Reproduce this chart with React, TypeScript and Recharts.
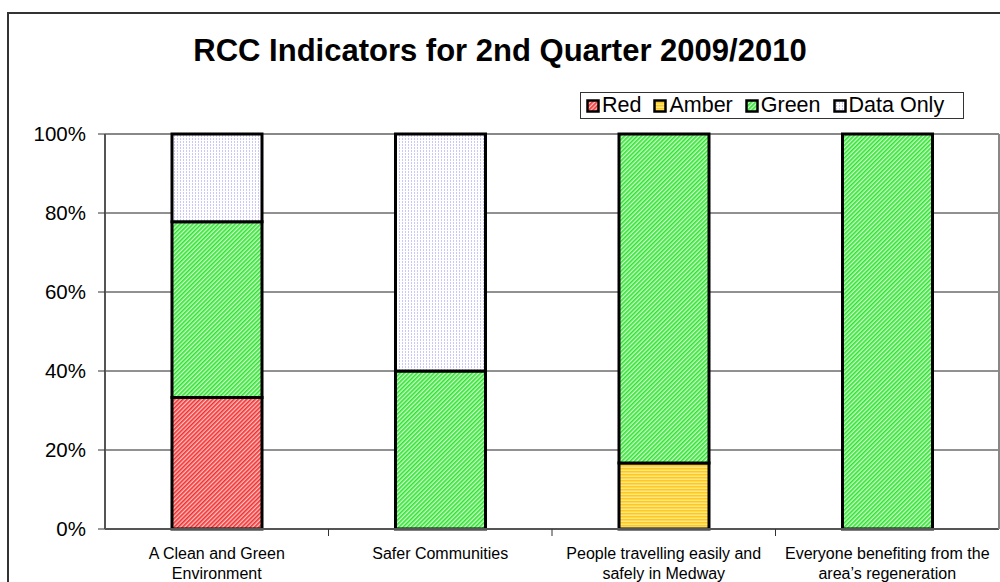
import { BarChart, Bar, XAxis, YAxis, CartesianGrid } from 'recharts';

const categories = [
  'A Clean and Green\nEnvironment',
  'Safer Communities',
  'People travelling easily and\nsafely in Medway',
  'Everyone benefiting from the\narea\u2019s regeneration',
];
const redValues = [33.3, 0, 0, 0];
const amberValues = [0, 0, 16.7, 0];
const greenValues = [44.5, 40, 83.3, 100];
const dataOnlyValues = [22.2, 60, 0, 0];
const yTicks = [0, 20, 40, 60, 80, 100];

const seriesInfo = [
  { key: 'Red', fill: 'url(#patRed)' },
  { key: 'Amber', fill: 'url(#patAmber)' },
  { key: 'Green', fill: 'url(#patGreen)' },
  { key: 'Data Only', fill: 'url(#patData)' },
];

const data = categories.map((name, i) => ({
  name,
  Red: redValues[i],
  Amber: amberValues[i],
  Green: greenValues[i],
  'Data Only': dataOnlyValues[i],
}));

const FONT = '"Liberation Sans", Arial, sans-serif';
const PLOT_TOP = 134;

// two-line category label plus a small tick at the left edge of each band
const CategoryTick = (props: any) => {
  const { x, y, payload, index } = props;
  const lines = String(payload.value).split('\n');
  const half = 223.5 / 2;
  return (
    <g>
      {index > 0 && <line x1={x - half} x2={x - half} y1={y - 8} y2={y - 1} stroke="#333" strokeWidth={1} />}
      <text x={x} y={y + 22} textAnchor="middle" fontSize={16} fill="#000" fontFamily={FONT}>
        {lines.map((l, i) => (
          <tspan key={i} x={x} dy={i === 0 ? 0 : 20}>{l}</tspan>
        ))}
      </text>
    </g>
  );
};

// top edge of the plot is a grey border, the rest are dark gridlines
const GridLine = (p: any) => (
  <line
    x1={p.x1}
    y1={p.y1}
    x2={p.x2}
    y2={p.y2}
    stroke={Math.abs(p.y1 - PLOT_TOP) < 1 ? '#888' : '#222'}
    strokeWidth={Math.abs(p.y1 - PLOT_TOP) < 1 ? 2 : 1}
  />
);

const Patterns = () => (
  <defs>
    <pattern id="patRed" width={3} height={3} patternUnits="userSpaceOnUse" patternTransform="rotate(45)">
      <rect width={3} height={3} fill="#ffc0c0" />
      <rect width={1.6} height={3} fill="#f03030" />
    </pattern>
    <pattern id="patGreen" width={3} height={3} patternUnits="userSpaceOnUse" patternTransform="rotate(45)">
      <rect width={3} height={3} fill="#c8ffc8" />
      <rect width={1.6} height={3} fill="#33e033" />
    </pattern>
    <pattern id="patAmber" width={4} height={3} patternUnits="userSpaceOnUse">
      <rect width={4} height={3} fill="#ffe680" />
      <rect width={4} height={1.5} fill="#ffc820" />
    </pattern>
    <pattern id="patData" width={3} height={3} patternUnits="userSpaceOnUse">
      <rect width={3} height={3} fill="#ffffff" />
      <rect width={1} height={2} fill="#c8c8ff" />
    </pattern>
  </defs>
);

const LegendBox = () => (
  <div
    style={{
      position: 'absolute',
      left: 580,
      top: 92,
      width: 384,
      height: 27,
      border: '1px solid #333',
      background: '#fff',
      display: 'flex',
      alignItems: 'center',
      padding: '0 0 0 5px',
      fontFamily: FONT,
      fontSize: 21.5,
      boxSizing: 'border-box',
      whiteSpace: 'nowrap',
    }}
  >
    {seriesInfo.map((s) => (
      <span key={s.key} style={{ display: 'flex', alignItems: 'center', marginRight: 12 }}>
        <svg width={14} height={14} style={{ marginRight: 2 }}>
          <Patterns />
          <rect x={1.5} y={1.5} width={11} height={11} fill={s.fill} stroke="#000" strokeWidth={2.5} />
        </svg>
        {s.key}
      </span>
    ))}
  </div>
);

export default function App() {
  return (
    <div style={{ position: 'absolute', left: 0, top: 0, width: 1000, height: 582, overflow: 'hidden', background: '#fff' }}>
      <div
        style={{
          position: 'absolute',
          left: 7,
          top: 12,
          width: 1100,
          height: 700,
          border: '2px solid #333',
          boxSizing: 'border-box',
        }}
      />
      <div
        style={{
          position: 'absolute',
          left: 0,
          top: 31,
          width: 1000,
          lineHeight: '40px',
          textAlign: 'center',
          fontFamily: FONT,
          fontWeight: 'bold',
          fontSize: 31,
        }}
      >
        RCC Indicators for 2nd Quarter 2009/2010
      </div>
      <div style={{ position: 'absolute', left: 0, top: 0 }}>
        <BarChart width={1000} height={582} data={data} margin={{ top: PLOT_TOP, right: 0, left: 0, bottom: 0 }} barSize={90}>
          <Patterns />
          <CartesianGrid vertical={false} horizontal={<GridLine />} />
          <XAxis
            dataKey="name"
            height={53}
            interval={0}
            tickLine={false}
            axisLine={{ stroke: '#555', strokeWidth: 2 }}
            tick={<CategoryTick />}
          />
          <YAxis
            width={105}
            domain={[0, 100]}
            ticks={yTicks}
            tickFormatter={(v) => `${v}%`}
            tick={{ fontSize: 20.5, fill: '#000', fontFamily: FONT }}
            tickLine={{ stroke: '#333' }}
            tickSize={7}
            tickMargin={12}
            axisLine={{ stroke: '#555', strokeWidth: 2 }}
          />
          <YAxis yAxisId="r" orientation="right" width={1} tick={false} tickLine={false} axisLine={{ stroke: '#888', strokeWidth: 2 }} />
          {seriesInfo.map((s) => (
            <Bar
              key={s.key}
              dataKey={s.key}
              stackId="a"
              fill={s.fill}
              stroke="#000"
              strokeWidth={3}
              isAnimationActive={false}
            />
          ))}
        </BarChart>
      </div>
      <LegendBox />
    </div>
  );
}
